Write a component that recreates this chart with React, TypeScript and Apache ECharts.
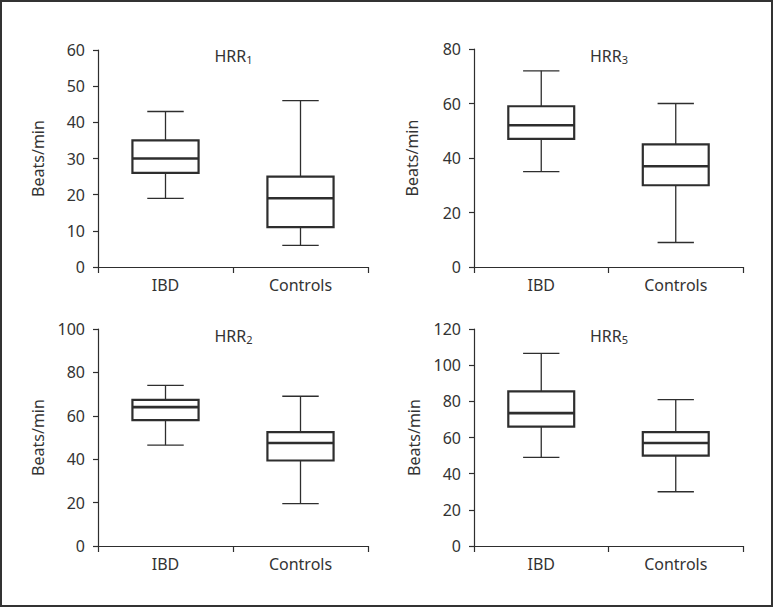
import React, { useEffect, useRef } from "react";
import * as echarts from "echarts";

const categories = ["IBD", "Controls"];
// [min, q1, median, q3, max]
const hrr1IBD = [19, 26, 30, 35, 43];
const hrr1Controls = [6, 11, 19, 25, 46];
const hrr3IBD = [35, 47, 52, 59, 72];
const hrr3Controls = [9, 30, 37, 45, 60];
const hrr2IBD = [46.5, 58, 64, 67.3, 74];
const hrr2Controls = [19.5, 39.4, 47.5, 52.5, 69];
const hrr5IBD = [49, 66, 73.5, 85.5, 106.5];
const hrr5Controls = [30, 50, 57, 63, 81];

const panelTitles = [["HRR", "1"], ["HRR", "3"], ["HRR", "2"], ["HRR", "5"]];
const yMax = [60, 80, 100, 120];
const yStep = [10, 20, 20, 20];

const FONT = "'Noto Sans', 'Open Sans', sans-serif";
const INK = "#2e2e2e";

export default function App() {
  const ref = useRef<HTMLDivElement>(null);
  useEffect(() => {
    if (!ref.current) return;
    const chart = echarts.init(ref.current, undefined, { renderer: "svg" });
    const grids = [
      { left: 98, top: 50, width: 270, height: 217 },
      { left: 474, top: 49, width: 269, height: 218 },
      { left: 98, top: 329, width: 270, height: 217 },
      { left: 474, top: 329, width: 269, height: 217 },
    ];
    const titleTops = [41, 41, 321, 321];
    const nameGaps = [52, 54, 52, 52];
    const panelData = [
      [hrr1IBD, hrr1Controls],
      [hrr3IBD, hrr3Controls],
      [hrr2IBD, hrr2Controls],
      [hrr5IBD, hrr5Controls],
    ];

    const renderItem = (params: any, api: any) => {
      const ci = api.value(0);
      const band = api.size([1, 0])[0];
      const boxW = band * 0.49;
      const capW = band * 0.27;
      const pMin = api.coord([ci, api.value(1)]);
      const pQ1 = api.coord([ci, api.value(2)]);
      const pMed = api.coord([ci, api.value(3)]);
      const pQ3 = api.coord([ci, api.value(4)]);
      const pMax = api.coord([ci, api.value(5)]);
      const cx = pMed[0];
      const wStyle = { stroke: INK, lineWidth: 1.3 };
      return {
        type: "group",
        children: [
          { type: "line", shape: { x1: cx, y1: pMax[1], x2: cx, y2: pQ3[1] }, style: wStyle },
          { type: "line", shape: { x1: cx, y1: pQ1[1], x2: cx, y2: pMin[1] }, style: wStyle },
          { type: "line", shape: { x1: cx - capW / 2, y1: pMax[1], x2: cx + capW / 2, y2: pMax[1] }, style: wStyle },
          { type: "line", shape: { x1: cx - capW / 2, y1: pMin[1], x2: cx + capW / 2, y2: pMin[1] }, style: wStyle },
          {
            type: "rect",
            shape: { x: cx - boxW / 2, y: pQ3[1], width: boxW, height: pQ1[1] - pQ3[1] },
            style: { fill: "#fff", stroke: INK, lineWidth: 2.2 },
          },
          {
            type: "line",
            shape: { x1: cx - boxW / 2, y1: pMed[1], x2: cx + boxW / 2, y2: pMed[1] },
            style: { stroke: INK, lineWidth: 2.6 },
          },
        ],
      };
    };

    const option: any = {
      animation: false,
      backgroundColor: "#fff",
      textStyle: { fontFamily: FONT },
      grid: grids.map((g) => ({ ...g, containLabel: false })),
      title: grids.map((g, i) => ({
        text: `{a|${panelTitles[i][0]}}{s|${panelTitles[i][1]}}`,
        left: g.left + g.width / 2 - 4.5,
        top: titleTops[i],
        textAlign: "center",
        textStyle: {
          fontWeight: "normal",
          fontFamily: FONT,
          rich: {
            a: { fontFamily: FONT, fontSize: 16, color: "#333", fontWeight: "normal" },
            s: { fontFamily: FONT, fontSize: 11, color: "#333", fontWeight: "normal", padding: [8, 0, 0, 0] },
          },
        },
      })),
      xAxis: grids.map((_, i) => ({
        type: "category",
        gridIndex: i,
        data: categories,
        boundaryGap: true,
        axisLine: { lineStyle: { color: INK, width: 1.2 } },
        axisTick: { show: true, length: 6, lineStyle: { color: INK, width: 1.2 }, alignWithLabel: false },
        axisLabel: { color: "#333", fontSize: 16, fontFamily: FONT, margin: 10 },
      })),
      yAxis: grids.map((_, i) => ({
        type: "value",
        gridIndex: i,
        min: 0,
        max: yMax[i],
        interval: yStep[i],
        name: "Beats/min",
        nameLocation: "middle",
        nameGap: nameGaps[i],
        nameTextStyle: { color: "#333", fontSize: 16, fontFamily: FONT },
        splitLine: { show: false },
        axisLine: { show: true, lineStyle: { color: INK, width: 1.2 } },
        axisTick: { show: true, length: 5, lineStyle: { color: INK, width: 1.2 } },
        axisLabel: { color: "#333", fontSize: 16, fontFamily: FONT, margin: 13 },
      })),
      series: panelData.map((pd, i) => ({
        type: "custom",
        xAxisIndex: i,
        yAxisIndex: i,
        renderItem,
        encode: { x: 0, y: [1, 2, 3, 4, 5] },
        data: pd.map((v, ci) => [ci, ...v]),
      })),
      graphic: [
        {
          type: "rect",
          shape: { x: 1, y: 1, width: 771, height: 605 },
          style: { fill: "none", stroke: "#333", lineWidth: 2 },
          silent: true,
        },
      ],
    };
    chart.setOption(option);
    return () => chart.dispose();
  }, []);
  return (
    <div
      ref={ref}
      style={{ position: "absolute", left: 0, top: 0, width: 773, height: 607 }}
    />
  );
}
